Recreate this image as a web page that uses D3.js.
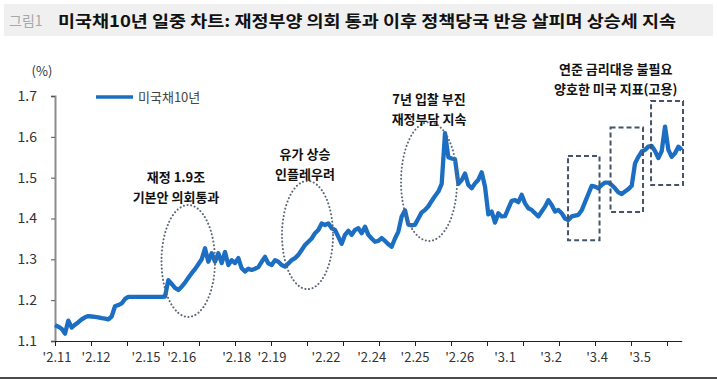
<!DOCTYPE html>
<html><head><meta charset="utf-8">
<script src="https://cdn.jsdelivr.net/npm/d3@7"></script>
<style>html,body{margin:0;padding:0;background:#fff;}svg{display:block;}</style>
</head><body>
<svg id="chart" width="717" height="387"></svg>
<script>
// ---- data ----
const yields = [
1.139,1.135,1.130,1.118,1.150,1.133,1.140,1.146,1.153,1.158,
1.161,1.160,1.159,1.158,1.156,1.155,1.153,1.160,1.185,1.188,
1.192,1.203,1.208,1.208,1.208,1.208,1.208,1.208,1.208,1.208,
1.208,1.208,1.208,1.209,1.249,1.240,1.230,1.225,1.233,1.243,
1.255,1.266,1.276,1.288,1.300,1.327,1.294,1.315,1.294,1.315,
1.291,1.318,1.286,1.298,1.291,1.303,1.278,1.270,1.277,1.274,
1.277,1.281,1.294,1.306,1.290,1.286,1.298,1.294,1.286,1.282,
1.290,1.298,1.303,1.311,1.323,1.335,1.343,1.351,1.364,1.372,
1.388,1.384,1.388,1.376,1.372,1.355,1.338,1.360,1.370,1.360,
1.372,1.376,1.364,1.380,1.360,1.351,1.343,1.345,1.352,1.345,
1.337,1.331,1.351,1.368,1.405,1.420,1.385,1.383,1.385,1.400,
1.415,1.421,1.430,1.443,1.455,1.466,1.485,1.609,1.550,1.547,
1.545,1.485,1.494,1.510,1.482,1.474,1.486,1.495,1.513,1.478,
1.410,1.417,1.390,1.413,1.405,1.406,1.425,1.443,1.445,1.440,
1.458,1.437,1.425,1.421,1.413,1.405,1.417,1.429,1.445,1.433,
1.417,1.421,1.413,1.400,1.396,1.405,1.407,1.409,1.420,1.440,
1.460,1.480,1.478,1.474,1.482,1.488,1.488,1.482,1.474,1.464,
1.460,1.466,1.472,1.480,1.535,1.551,1.564,1.568,1.576,1.578,
1.565,1.548,1.565,1.625,1.568,1.551,1.560,1.576,1.568
];
const xLabels = ["'2.11","'2.12","'2.15","'2.16","'2.18","'2.19","'2.22","'2.24","'2.25","'2.26","'3.1","'3.2","'3.4","'3.5"];
const xLabelIdx = [0.6,12.3,27.3,38,54.5,65.1,81.3,95,108,121.4,135,148.8,162.6,175.5];
const yTicks = [1.1,1.2,1.3,1.4,1.5,1.6,1.7];
const seriesName = "미국채10년";
const titleTag = "그림1";
const titleText = "미국채10년 일중 차트: 재정부양 의회 통과 이후 정책당국 반응 살피며 상승세 지속";
// annotations: [idx0, idx1, v0, v1]
const ellipses = [[31.95,48,1.433,1.159],[68.1,83.4,1.492,1.227],[103.8,120.6,1.636,1.345]];
const rects = [[153.9,163.35,1.553,1.347],[166.65,176.4,1.623,1.416],[178.8,188.4,1.688,1.482]];
const notes = [
  {idx:36.3, v:1.502, lines:["재정 1.9조","기본안 의회통과"]},
  {idx:75.0, v:1.559, lines:["유가 상승","인플레우려"]},
  {idx:112.2, v:1.692, lines:["7년 입찰 부진","재정부담 지속"]},
  {idx:168.2, v:1.766, lines:["연준 금리대응 불필요","양호한 미국 지표(고용)"]}
];

// ---- drawing ----
const svg = d3.select("#chart");
const font = "'Noto Sans CJK KR','Noto Sans',sans-serif";
const x = d3.scaleLinear().domain([0, yields.length-1]).range([55, 681.7]);
const y = d3.scaleLinear().domain([1.1, 1.7]).range([341, 96]);

// title bar
svg.append("rect").attr("x",4).attr("y",4).attr("width",709).attr("height",32).attr("fill","#f0f0f0");
svg.append("text").attr("x",9).attr("y",26).attr("font-family",font).attr("font-size",14)
  .attr("fill","#a8a8a8").text(titleTag);
svg.append("text").attr("x",58).attr("y",27).attr("font-family",font).attr("font-size",16)
  .attr("font-weight","bold").attr("fill","#111").attr("textLength",618).attr("lengthAdjust","spacingAndGlyphs").text(titleText);

// y axis
const yAxis = svg.append("g").attr("transform","translate(55,0)")
  .call(d3.axisLeft(y).tickValues(yTicks).tickFormat(d3.format(".1f")).tickSize(4).tickPadding(14));
yAxis.select(".domain").attr("stroke","#8c8c8c").attr("stroke-width",2);
yAxis.selectAll(".tick line").attr("stroke","#555");
yAxis.selectAll("text").attr("font-family",font).attr("font-size",14).attr("fill","#333");
svg.append("text").attr("x",42).attr("y",76).attr("text-anchor","middle").attr("font-family",font)
  .attr("font-size",13).attr("fill","#333").text("(%)");

// x axis
const tickIdx = d3.range(0, yields.length, 10.8);
const xAxis = svg.append("g").attr("transform","translate(0,341)")
  .call(d3.axisBottom(x).tickValues(tickIdx).tickFormat("").tickSize(5).tickSizeOuter(0));
xAxis.select(".domain").attr("stroke","#222").attr("stroke-width",1.2);
xAxis.selectAll(".tick line").attr("stroke","#222");
svg.append("g").selectAll("text").data(xLabels).join("text")
  .attr("x",(d,i)=>x(xLabelIdx[i])).attr("y",362).attr("text-anchor","middle")
  .attr("font-family",font).attr("font-size",13).attr("fill","#333").text(d=>d);

// series line
const line = d3.line().x((d,i)=>x(i)).y(d=>y(d));
svg.append("path").datum(yields).attr("d",line).attr("fill","none")
  .attr("stroke","#1b6ec2").attr("stroke-width",4.3).attr("stroke-linejoin","round");

// legend
svg.append("line").attr("x1",96).attr("x2",133).attr("y1",97).attr("y2",97)
  .attr("stroke","#1b6ec2").attr("stroke-width",3.5);
svg.append("text").attr("x",138).attr("y",102).attr("font-family",font).attr("font-size",13)
  .attr("fill","#444").text(seriesName);

// ellipses
svg.append("g").selectAll("ellipse").data(ellipses).join("ellipse")
  .attr("cx",d=>(x(d[0])+x(d[1]))/2).attr("cy",d=>(y(d[2])+y(d[3]))/2)
  .attr("rx",d=>(x(d[1])-x(d[0]))/2).attr("ry",d=>(y(d[3])-y(d[2]))/2)
  .attr("fill","none").attr("stroke","#5a6878").attr("stroke-width",2)
  .attr("stroke-dasharray","0.1 3.6").attr("stroke-linecap","round");

// dashed rects
svg.append("g").selectAll("rect").data(rects).join("rect")
  .attr("x",d=>x(d[0])).attr("y",d=>y(d[2]))
  .attr("width",d=>x(d[1])-x(d[0])).attr("height",d=>y(d[3])-y(d[2]))
  .attr("fill","none").attr("stroke","#44546a").attr("stroke-width",2)
  .attr("stroke-dasharray","5 3");

// notes
notes.forEach(n=>{
  const t = svg.append("text").attr("text-anchor","middle").attr("font-family",font)
    .attr("font-size",13).attr("font-weight","bold").attr("fill","#111");
  n.lines.forEach((s,i)=>{
    t.append("tspan").attr("x",x(n.idx)).attr("y",y(n.v)+5+i*20).text(s);
  });
});

// bottom rule
svg.append("line").attr("x1",0).attr("x2",717).attr("y1",378).attr("y2",378)
  .attr("stroke","#111").attr("stroke-width",1.5);
</script>
</body></html>
